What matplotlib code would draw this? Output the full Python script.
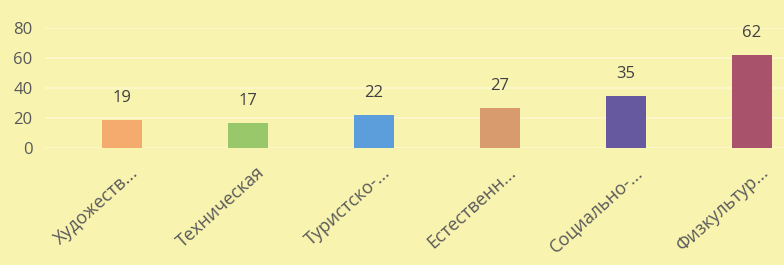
import numpy as np
import matplotlib.pyplot as plt
import matplotlib.transforms as mtransforms

plt.rcParams['font.family'] = ['Open Sans', 'DejaVu Sans']

categories = ["Художеств...", "Техническая", "Туристско-...", "Естественн...", "Социально-...", "Физкультур..."]
values = [19, 17, 22, 27, 35, 62]
colors = ["#F5AB6E", "#98C86A", "#5C9EDC", "#D89B6E", "#66599F", "#A9526B"]
yticks = [0, 20, 40, 60, 80]

bg = "#F9F3B0"
W, H = 784, 265
fig = plt.figure(figsize=(W / 100, H / 100), dpi=100, facecolor=bg)

# axes placed in pixel units
left, right, bottom, top = 45, 784, 148, 28
ax = fig.add_axes([left / W, 1 - bottom / H, (right - left) / W, (bottom - top) / H])
ax.set_facecolor(bg)

x = np.arange(len(categories))
ax.bar(x, values, width=0.317, color=colors, zorder=3)

ax.set_xlim(-0.611, 5.254)
ax.set_ylim(0, 80)
ax.set_yticks(yticks)
ax.yaxis.grid(True, color="#FCF8CE", linewidth=1.2, zorder=0)
for s in ax.spines.values():
    s.set_visible(False)
ax.tick_params(axis='y', length=0, pad=9, labelsize=12, labelcolor="#595959")
ax.tick_params(axis='x', length=0)
ax.set_xticks([])

for xi, v in zip(x, values):
    ax.annotate(str(v), (xi, v), xytext=(0, 10), textcoords='offset points',
                ha='center', va='bottom', fontsize=12, color="#404040")

# rotated category labels
for xi, lab in zip(x, categories):
    off = mtransforms.offset_copy(ax.get_xaxis_transform(), fig=fig, x=10, y=-16, units='points')
    ax.text(xi, 0, lab, transform=off, rotation=42, rotation_mode='anchor',
            ha='right', va='center', fontsize=13, color="#595959")

fig.savefig("out.png", dpi=100, facecolor=bg)
